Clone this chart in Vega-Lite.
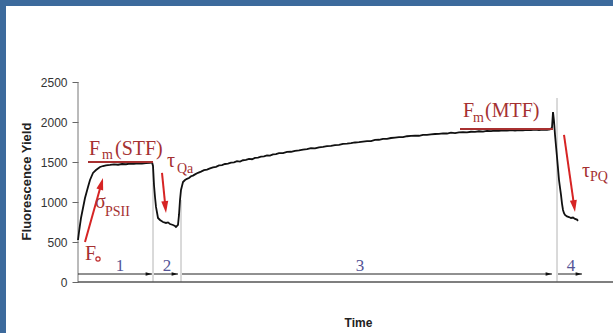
{
  "$schema": "https://vega.github.io/schema/vega-lite/v6.json",
  "width": 607,
  "height": 327,
  "autosize": {"type": "none"},
  "padding": {"left": 6, "top": 6, "right": 0, "bottom": 0},
  "background": "#3c6a9c",
  "config": {"view": {"fill": "white", "stroke": null}, "axis": {"grid": false}},
  "datasets": {
    "curve": [
      {"t":0,"v":525},{"t":1,"v":625},{"t":2,"v":713},{"t":3,"v":800},{"t":5,"v":925},{"t":7,"v":1050},{"t":10,"v":1188},{"t":12,"v":1275},{"t":15,"v":1363},{"t":18,"v":1400},{"t":22,"v":1438},{"t":25,"v":1450},{"t":28,"v":1458},{"t":32,"v":1463},{"t":36,"v":1470},{"t":40,"v":1466},{"t":44,"v":1475},{"t":48,"v":1472},{"t":52,"v":1480},{"t":56,"v":1476},{"t":60,"v":1483},{"t":64,"v":1480},{"t":68,"v":1486},{"t":72,"v":1488},{"t":74,"v":1494},
      {"t":75,"v":1450},{"t":76,"v":1213},{"t":77,"v":1063},{"t":78,"v":938},{"t":80,"v":800},{"t":82,"v":775},{"t":85,"v":750},{"t":88,"v":738},{"t":90,"v":745},{"t":92,"v":725},{"t":95,"v":713},{"t":97,"v":700},{"t":98,"v":688},{"t":100,"v":713},{"t":101,"v":838},{"t":102,"v":1025},{"t":103,"v":1150},{"t":105,"v":1250},
      {"t":107,"v":1275},{"t":109,"v":1290},{"t":111,"v":1300},{"t":113,"v":1322},{"t":115,"v":1330},{"t":117,"v":1345},{"t":120,"v":1365},{"t":123,"v":1380},{"t":126,"v":1398},{"t":129,"v":1405},{"t":132,"v":1420},{"t":135,"v":1432},{"t":138,"v":1440},{"t":141,"v":1458},{"t":144,"v":1462},{"t":147,"v":1475},{"t":150,"v":1480},{"t":153,"v":1492},{"t":156,"v":1496},{"t":159,"v":1510},{"t":162,"v":1506},{"t":165,"v":1522},{"t":168,"v":1526},{"t":171,"v":1540},{"t":174,"v":1535},{"t":177,"v":1552},{"t":180,"v":1556},{"t":183,"v":1566},{"t":186,"v":1570},{"t":189,"v":1582},{"t":192,"v":1580},{"t":195,"v":1596},{"t":198,"v":1598},{"t":201,"v":1610},{"t":205,"v":1612},{"t":209,"v":1626},{"t":213,"v":1628},{"t":217,"v":1640},{"t":221,"v":1645},{"t":225,"v":1656},{"t":229,"v":1660},{"t":233,"v":1672},{"t":237,"v":1670},{"t":241,"v":1684},{"t":245,"v":1690},{"t":249,"v":1698},{"t":253,"v":1702},{"t":257,"v":1712},{"t":261,"v":1714},{"t":265,"v":1726},{"t":269,"v":1730},{"t":273,"v":1736},{"t":277,"v":1744},{"t":281,"v":1748},{"t":285,"v":1755},{"t":289,"v":1762},{"t":293,"v":1760},{"t":297,"v":1776},{"t":301,"v":1778},{"t":305,"v":1790},{"t":309,"v":1788},{"t":313,"v":1800},{"t":317,"v":1806},{"t":321,"v":1812},{"t":325,"v":1810},{"t":329,"v":1822},{"t":333,"v":1826},{"t":337,"v":1830},{"t":341,"v":1828},{"t":345,"v":1840},{"t":349,"v":1838},{"t":353,"v":1846},{"t":357,"v":1850},{"t":361,"v":1852},{"t":365,"v":1858},{"t":369,"v":1856},{"t":373,"v":1866},{"t":377,"v":1862},{"t":381,"v":1870},{"t":385,"v":1874},{"t":389,"v":1870},{"t":393,"v":1878},{"t":397,"v":1876},{"t":401,"v":1884},{"t":405,"v":1880},{"t":409,"v":1888},{"t":413,"v":1886},{"t":417,"v":1892},{"t":421,"v":1888},{"t":425,"v":1894},{"t":429,"v":1892},{"t":433,"v":1898},{"t":437,"v":1894},{"t":441,"v":1900},{"t":445,"v":1896},{"t":449,"v":1902},{"t":453,"v":1898},{"t":457,"v":1904},{"t":461,"v":1900},{"t":465,"v":1906},{"t":469,"v":1902},{"t":472,"v":1908},
      {"t":474,"v":1930},{"t":475,"v":2125},{"t":476,"v":2010},{"t":477,"v":1840},{"t":478,"v":1700},{"t":479,"v":1563},{"t":480,"v":1420},{"t":481,"v":1275},{"t":482,"v":1180},{"t":483,"v":1088},{"t":484,"v":980},{"t":485,"v":900},{"t":486,"v":860},{"t":487,"v":838},{"t":489,"v":820},{"t":491,"v":812},{"t":493,"v":800},{"t":495,"v":806},{"t":497,"v":788},{"t":499,"v":780},{"t":500,"v":765}
    ],
    "guides": [{"t":75,"v0":0,"v1":1494},{"t":103,"v0":0,"v1":1025},{"t":479,"v0":0,"v1":2300}],
    "yline": [{"t":0,"v0":0,"v1":2500}],
    "xline": [{"t0":0,"t1":540,"v":0}],
    "phases": [
      {"phase":"1","t0":0,"tip":74,"mid":42,"v":100},
      {"phase":"2","t0":76,"tip":100,"mid":89,"v":100},
      {"phase":"3","t0":104,"tip":474,"mid":282,"v":100},
      {"phase":"4","t0":480,"tip":504,"mid":493,"v":100}
    ],
    "fm": [{"t0":10,"t1":75,"v":1500},{"t0":382,"t1":475,"v":1913}],
    "arrows": [
      {"name":"sigma","t0":7,"v0":500,"t1":22.3,"v1":1180,"ttip":25,"vtip":1300},
      {"name":"tauQa","t0":84,"v0":1363,"t1":87,"v1":988,"ttip":88,"vtip":863},
      {"name":"tauPQ","t0":486,"v0":1838,"t1":495.6,"v1":999,"ttip":497,"vtip":875}
    ],
    "bigtext": [
      {"text":"F","t":11,"v":1588},{"text":"(STF)","t":37,"v":1588},{"text":"σ","t":17,"v":925},{"text":"F","t":7,"v":275},{"text":"τ","t":89,"v":1438},{"text":"F","t":385,"v":2063},{"text":"(MTF)","t":407,"v":2063},{"text":"τ","t":504,"v":1313}
    ],
    "subtext": [
      {"text":"m","t":24,"v":1538},{"text":"PSII","t":27,"v":825},{"text":"Qa","t":99,"v":1363},{"text":"m","t":395,"v":2000},{"text":"PQ","t":512,"v":1263}
    ],
    "circle": [{"t":20,"v":287}]
  },
  "layer": [
    {
      "data": {"name": "guides"},
      "mark": {"type": "rule", "color": "#b4b4b4", "strokeWidth": 1},
      "encoding": {
        "x": {"field": "t", "type": "quantitative", "scale": {"domain": [-72, 535], "nice": false, "zero": false},
          "axis": {"orient": "bottom", "offset": -51, "domain": false, "ticks": false, "labels": false, "title": "Time", "titleFont": "Liberation Sans", "titleFontSize": 12, "titleFontWeight": "bold", "titleColor": "#222", "titleX": 352, "titleY": 35}},
        "y": {"field": "v0", "type": "quantitative", "scale": {"domain": [-637.5, 3450], "nice": false, "zero": false},
          "axis": {"orient": "left", "offset": -72, "domain": false, "values": [0, 500, 1000, 1500, 2000, 2500], "format": "d", "tickSize": 6, "tickColor": "#666", "labelFont": "Liberation Sans", "labelFontSize": 12, "labelColor": "#333", "labelPadding": 5, "title": "Fluorescence Yield", "titleFont": "Liberation Sans", "titleFontSize": 13, "titleFontWeight": "bold", "titleColor": "#222", "titleX": -45, "titleY": 175}},
        "y2": {"field": "v1"}
      }
    },
    {
      "data": {"name": "yline"},
      "mark": {"type": "rule", "color": "#777", "strokeWidth": 1},
      "encoding": {
        "x": {"field": "t", "type": "quantitative", "scale": {"domain": [-72, 535], "nice": false, "zero": false}},
        "y": {"field": "v0", "type": "quantitative", "scale": {"domain": [-637.5, 3450], "nice": false, "zero": false}},
        "y2": {"field": "v1"}
      }
    },
    {
      "data": {"name": "xline"},
      "mark": {"type": "rule", "color": "#555", "strokeWidth": 1.5},
      "encoding": {
        "x": {"field": "t0", "type": "quantitative", "scale": {"domain": [-72, 535], "nice": false, "zero": false}},
        "x2": {"field": "t1"},
        "y": {"field": "v", "type": "quantitative", "scale": {"domain": [-637.5, 3450], "nice": false, "zero": false}}
      }
    },
    {
      "data": {"name": "phases"},
      "mark": {"type": "rule", "color": "#222", "strokeWidth": 1},
      "encoding": {
        "x": {"field": "t0", "type": "quantitative", "scale": {"domain": [-72, 535], "nice": false, "zero": false}},
        "x2": {"field": "tip"},
        "y": {"field": "v", "type": "quantitative", "scale": {"domain": [-637.5, 3450], "nice": false, "zero": false}}
      }
    },
    {
      "data": {"name": "phases"},
      "mark": {"type": "point", "shape": "M0,0L1,3.4L-1,3.4Z", "filled": true, "color": "#111", "size": 14, "angle": 90, "opacity": 1},
      "encoding": {
        "x": {"field": "tip", "type": "quantitative", "scale": {"domain": [-72, 535], "nice": false, "zero": false}},
        "y": {"field": "v", "type": "quantitative", "scale": {"domain": [-637.5, 3450], "nice": false, "zero": false}}
      }
    },
    {
      "data": {"name": "phases"},
      "mark": {"type": "text", "font": "Liberation Serif", "fontSize": 17, "color": "#545496", "align": "center", "baseline": "alphabetic"},
      "encoding": {
        "x": {"field": "mid", "type": "quantitative", "scale": {"domain": [-72, 535], "nice": false, "zero": false}},
        "y": {"field": "v", "type": "quantitative", "scale": {"domain": [-637.5, 3450], "nice": false, "zero": false}},
        "yOffset": {"value": -3},
        "text": {"field": "phase"}
      }
    },
    {
      "data": {"name": "curve"},
      "mark": {"type": "line", "color": "#111", "strokeWidth": 1.8},
      "encoding": {
        "x": {"field": "t", "type": "quantitative", "scale": {"domain": [-72, 535], "nice": false, "zero": false}},
        "y": {"field": "v", "type": "quantitative", "scale": {"domain": [-637.5, 3450], "nice": false, "zero": false}}
      }
    },
    {
      "data": {"name": "fm"},
      "mark": {"type": "rule", "color": "#a83030", "strokeWidth": 2},
      "encoding": {
        "x": {"field": "t0", "type": "quantitative", "scale": {"domain": [-72, 535], "nice": false, "zero": false}},
        "x2": {"field": "t1"},
        "y": {"field": "v", "type": "quantitative", "scale": {"domain": [-637.5, 3450], "nice": false, "zero": false}}
      }
    },
    {
      "data": {"name": "arrows"},
      "mark": {"type": "rule", "color": "#d62424", "strokeWidth": 2},
      "encoding": {
        "x": {"field": "t0", "type": "quantitative", "scale": {"domain": [-72, 535], "nice": false, "zero": false}},
        "x2": {"field": "t1"},
        "y": {"field": "v0", "type": "quantitative", "scale": {"domain": [-637.5, 3450], "nice": false, "zero": false}},
        "y2": {"field": "v1"}
      }
    },
    {
      "data": {"name": "arrows"},
      "transform": [{"filter": {"field": "name", "equal": "sigma"}}],
      "mark": {"type": "point", "shape": "M0,0L1,3.4L-1,3.4Z", "filled": true, "color": "#d62424", "size": 49, "angle": 15.7, "opacity": 1},
      "encoding": {
        "x": {"field": "ttip", "type": "quantitative", "scale": {"domain": [-72, 535], "nice": false, "zero": false}},
        "y": {"field": "vtip", "type": "quantitative", "scale": {"domain": [-637.5, 3450], "nice": false, "zero": false}}
      }
    },
    {
      "data": {"name": "arrows"},
      "transform": [{"filter": {"field": "name", "equal": "tauQa"}}],
      "mark": {"type": "point", "shape": "M0,0L1,3.4L-1,3.4Z", "filled": true, "color": "#d62424", "size": 49, "angle": 174, "opacity": 1},
      "encoding": {
        "x": {"field": "ttip", "type": "quantitative", "scale": {"domain": [-72, 535], "nice": false, "zero": false}},
        "y": {"field": "vtip", "type": "quantitative", "scale": {"domain": [-637.5, 3450], "nice": false, "zero": false}}
      }
    },
    {
      "data": {"name": "arrows"},
      "transform": [{"filter": {"field": "name", "equal": "tauPQ"}}],
      "mark": {"type": "point", "shape": "M0,0L1,3.4L-1,3.4Z", "filled": true, "color": "#d62424", "size": 49, "angle": 172, "opacity": 1},
      "encoding": {
        "x": {"field": "ttip", "type": "quantitative", "scale": {"domain": [-72, 535], "nice": false, "zero": false}},
        "y": {"field": "vtip", "type": "quantitative", "scale": {"domain": [-637.5, 3450], "nice": false, "zero": false}}
      }
    },
    {
      "data": {"name": "bigtext"},
      "mark": {"type": "text", "font": "Liberation Serif", "fontSize": 20, "color": "#a53131", "align": "left", "baseline": "alphabetic"},
      "encoding": {
        "x": {"field": "t", "type": "quantitative", "scale": {"domain": [-72, 535], "nice": false, "zero": false}},
        "y": {"field": "v", "type": "quantitative", "scale": {"domain": [-637.5, 3450], "nice": false, "zero": false}},
        "text": {"field": "text"}
      }
    },
    {
      "data": {"name": "subtext"},
      "mark": {"type": "text", "font": "Liberation Serif", "fontSize": 14, "color": "#a53131", "align": "left", "baseline": "alphabetic"},
      "encoding": {
        "x": {"field": "t", "type": "quantitative", "scale": {"domain": [-72, 535], "nice": false, "zero": false}},
        "y": {"field": "v", "type": "quantitative", "scale": {"domain": [-637.5, 3450], "nice": false, "zero": false}},
        "text": {"field": "text"}
      }
    },
    {
      "data": {"name": "circle"},
      "mark": {"type": "point", "shape": "circle", "filled": false, "color": "#c03030", "size": 18, "strokeWidth": 1.2, "opacity": 1},
      "encoding": {
        "x": {"field": "t", "type": "quantitative", "scale": {"domain": [-72, 535], "nice": false, "zero": false}},
        "y": {"field": "v", "type": "quantitative", "scale": {"domain": [-637.5, 3450], "nice": false, "zero": false}}
      }
    }
  ]
}
